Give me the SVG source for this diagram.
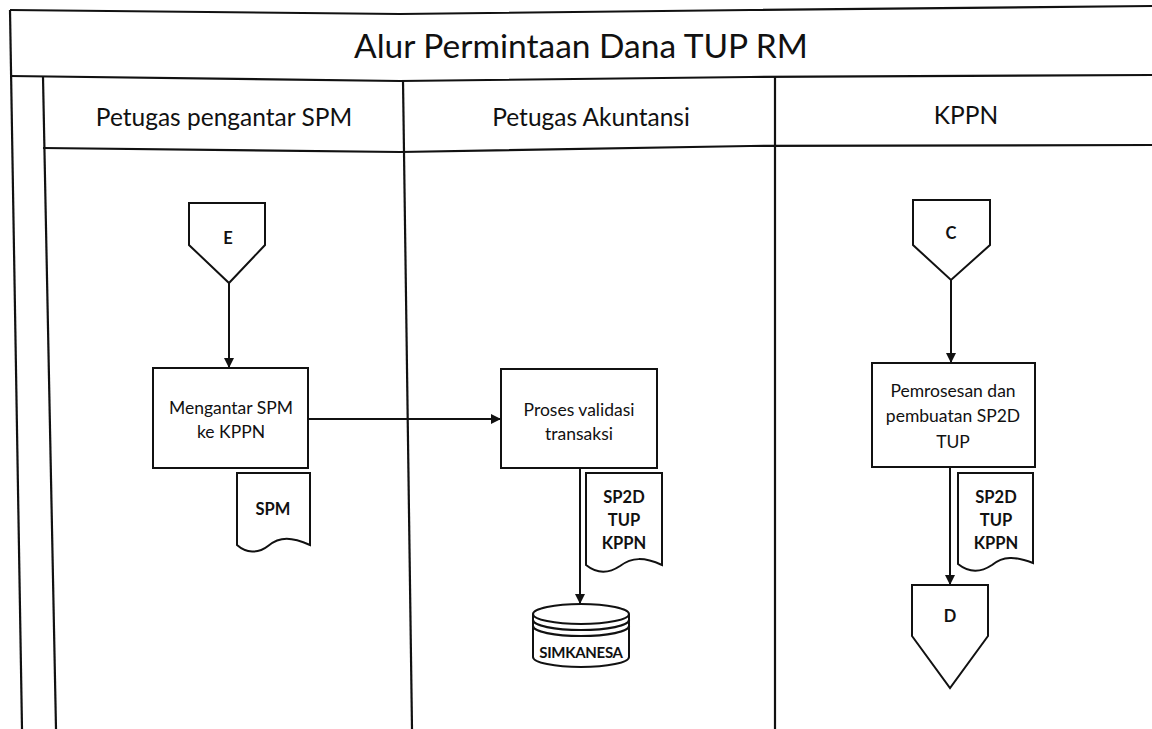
<svg xmlns="http://www.w3.org/2000/svg" width="1152" height="729" viewBox="0 0 1152 729">
  <defs>
    <marker id="arrow" viewBox="0 0 10 10" refX="10" refY="5" markerWidth="10" markerHeight="10" markerUnits="userSpaceOnUse" orient="auto">
      <path d="M0,0 L10,5 L0,10 Z" fill="#111"/>
    </marker>
    <style>
      .frame { fill: none; stroke: #111; stroke-width: 2.2; }
      .shape { fill: #fff; stroke: #111; stroke-width: 2; }
      .edge { fill: none; stroke: #111; stroke-width: 2; marker-end: url(#arrow); }
      .title { font-family: Lato, "Liberation Sans", sans-serif; font-size: 33.5px; fill: #111; text-anchor: middle; }
      .lane { font-family: Lato, "Liberation Sans", sans-serif; font-size: 24.5px; fill: #111; text-anchor: middle; }
      .label { font-family: Lato, "Liberation Sans", sans-serif; font-size: 17.5px; fill: #111; text-anchor: middle; }
      .tag { font-family: Lato, "Liberation Sans", sans-serif; font-size: 16.5px; font-weight: bold; fill: #111; text-anchor: middle; }
      .small { font-family: Lato, "Liberation Sans", sans-serif; font-size: 15px; font-weight: bold; fill: #111; text-anchor: middle; letter-spacing: -0.3px; }
    </style>
  </defs>
  <rect width="1152" height="729" fill="#fff"/>

  <!-- swimlane frame -->
  <g id="frame">
    <polyline class="frame" points="10,10 400,14 750,10 1152,6"/>
    <polyline class="frame" points="10,76 400,81 750,77 1152,75"/>
    <polyline class="frame" points="43,148 400,152 750,146 1152,145"/>
    <line class="frame" x1="10" y1="10" x2="22" y2="729"/>
    <line class="frame" x1="43" y1="77" x2="56" y2="729"/>
    <line class="frame" x1="403" y1="80" x2="412" y2="729"/>
    <line class="frame" x1="775" y1="77" x2="775" y2="729"/>
    <text class="title" x="581" y="58">Alur Permintaan Dana TUP RM</text>
    <text class="lane" x="224" y="126">Petugas pengantar SPM</text>
    <text class="lane" x="591" y="126">Petugas Akuntansi</text>
    <text class="lane" x="966" y="124">KPPN</text>
  </g>

  <!-- connectors -->
  <g id="connectors">
    <line class="edge" x1="229" y1="283" x2="229" y2="368"/>
    <line class="edge" x1="308" y1="419" x2="501" y2="419"/>
    <line class="edge" x1="580" y1="468" x2="580" y2="604"/>
    <line class="edge" x1="951" y1="280" x2="951" y2="363"/>
    <line class="edge" x1="950" y1="467" x2="950" y2="585"/>
  </g>

  <!-- lane 1: Petugas pengantar SPM -->
  <g id="node-e">
    <polygon class="shape" points="189,203 265,203 265,245 229,283 189,245"/>
    <text class="tag" x="228" y="244">E</text>
  </g>
  <g id="node-mengantar">
    <rect class="shape" x="153" y="368" width="155" height="100"/>
    <text class="label" x="231" y="414">Mengantar SPM</text>
    <text class="label" x="231" y="438">ke KPPN</text>
  </g>
  <g id="doc-spm">
    <path class="shape" d="M237,473 L310,473 L310,545 C292,537 280,536 268,546 C258,554 246,553 237,545 Z"/>
    <text class="tag" x="273" y="515">SPM</text>
  </g>

  <!-- lane 2: Petugas Akuntansi -->
  <g id="node-proses">
    <rect class="shape" x="501" y="369" width="156" height="99"/>
    <text class="label" x="579" y="416">Proses validasi</text>
    <text class="label" x="579" y="440">transaksi</text>
  </g>
  <g id="doc-sp2d-1">
    <path class="shape" d="M586,473 L662,473 L662,565 C644,557 632,557 620,566 C608,574 596,573 586,565 Z"/>
    <text class="tag" x="624" y="503">SP2D</text>
    <text class="tag" x="624" y="526">TUP</text>
    <text class="tag" x="624" y="549">KPPN</text>
  </g>
  <g id="db-simkanesa">
    <path class="shape" d="M533,614 L533,657 A48,10 0 0 0 629,657 L629,614"/>
    <ellipse class="shape" cx="581" cy="614" rx="48" ry="10"/>
    <path class="frame" d="M533,620 A48,10 0 0 0 629,620" stroke-width="1.8"/>
    <path class="frame" d="M533,626 A48,10 0 0 0 629,626" stroke-width="1.8"/>
    <text class="small" x="581" y="658">SIMKANESA</text>
  </g>

  <!-- lane 3: KPPN -->
  <g id="node-c">
    <polygon class="shape" points="913,200 990,200 990,245 951,280 913,245"/>
    <text class="tag" x="951" y="239">C</text>
  </g>
  <g id="node-pemrosesan">
    <rect class="shape" x="872" y="363" width="163" height="104"/>
    <text class="label" x="953" y="397">Pemrosesan dan</text>
    <text class="label" x="953" y="422">pembuatan SP2D</text>
    <text class="label" x="953" y="448">TUP</text>
  </g>
  <g id="doc-sp2d-2">
    <path class="shape" d="M958,473 L1033,473 L1033,563 C1015,556 1003,556 992,565 C980,573 968,572 958,564 Z"/>
    <text class="tag" x="996" y="503">SP2D</text>
    <text class="tag" x="996" y="526">TUP</text>
    <text class="tag" x="996" y="549">KPPN</text>
  </g>
  <g id="node-d">
    <polygon class="shape" points="912,585 988,585 988,636 950,688 912,636"/>
    <text class="tag" x="950" y="622">D</text>
  </g>
</svg>
